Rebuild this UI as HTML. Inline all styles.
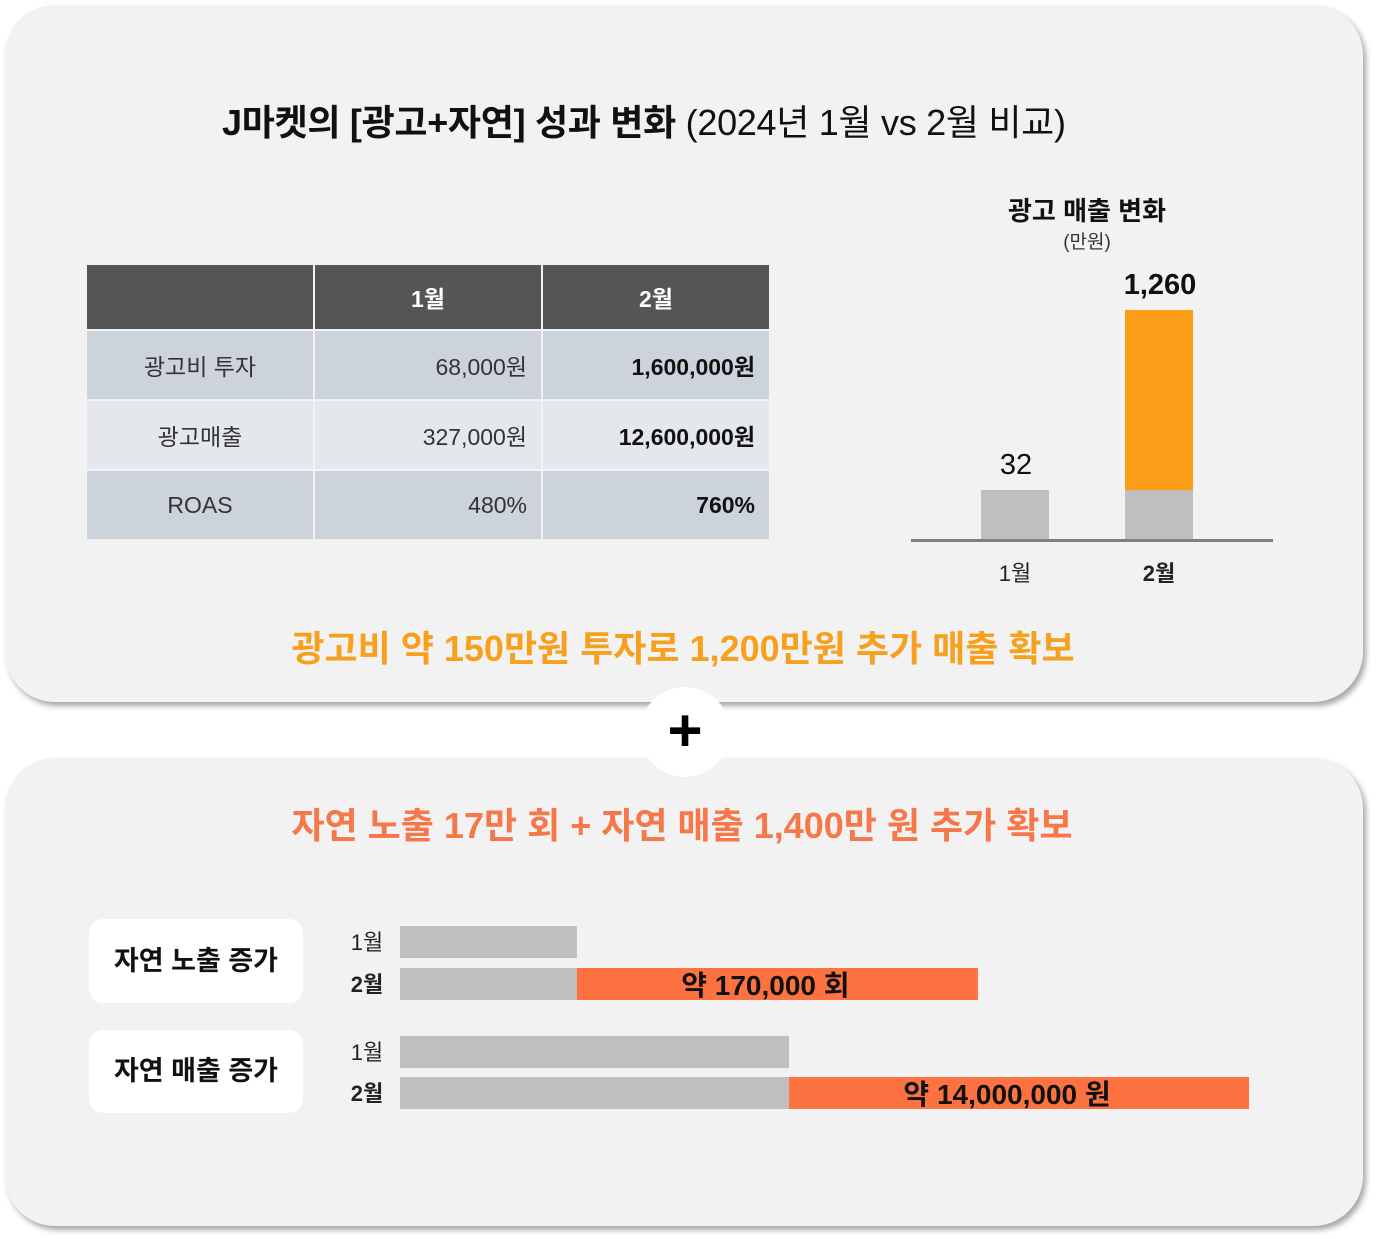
<!DOCTYPE html>
<html><head><meta charset="utf-8">
<style>
body{margin:0;width:1377px;height:1239px;background:#fff;font-family:"Liberation Sans","Noto Sans CJK KR",sans-serif;position:relative;overflow:hidden}
.panel{position:absolute;background:#f2f2f2;border-radius:50px;box-shadow:3px 4px 6px rgba(0,0,0,0.35)}
.abs{position:absolute}
table{border-collapse:separate;border-spacing:2px;position:absolute;left:85px;top:263px;width:686px;table-layout:fixed}
td{font-size:23px;color:#333;padding:0}
</style></head><body>
<div class="panel" style="left:5px;top:5px;width:1358px;height:697px"></div>
<div class="panel" style="left:5px;top:758px;width:1358px;height:468px"></div>
<div class="abs" style="left:640px;top:687px;width:90px;height:90px;border-radius:50%;background:#fff;text-align:center;line-height:88px;font-size:60px;font-weight:bold;color:#000">+</div>

<div class="abs" style="left:222px;top:94px;white-space:nowrap;font-size:36px;color:#111;letter-spacing:-0.3px"><b>J마켓의 [광고+자연] 성과 변화</b> (2024년 1월 vs 2월 비교)</div>

<table>
<tr style="height:64px;background:#555;color:#fff"><td style="background:#555"></td><td style="background:#555;color:#fff;text-align:center;font-weight:bold">1월</td><td style="background:#555;color:#fff;text-align:center;font-weight:bold">2월</td></tr>
<tr style="height:68px"><td style="background:#cdd3db;text-align:center">광고비 투자</td><td style="background:#cdd3db;text-align:right;padding-right:14px">68,000원</td><td style="background:#cdd3db;text-align:right;padding-right:14px;font-weight:bold;color:#111">1,600,000원</td></tr>
<tr style="height:68px"><td style="background:#e4e7eb;text-align:center">광고매출</td><td style="background:#e4e7eb;text-align:right;padding-right:14px">327,000원</td><td style="background:#e4e7eb;text-align:right;padding-right:14px;font-weight:bold;color:#111">12,600,000원</td></tr>
<tr style="height:68px"><td style="background:#cdd3db;text-align:center">ROAS</td><td style="background:#cdd3db;text-align:right;padding-right:14px">480%</td><td style="background:#cdd3db;text-align:right;padding-right:14px;font-weight:bold;color:#111">760%</td></tr>
</table>

<svg class="abs" style="left:0;top:0" width="1377" height="1239" id="chart"></svg>

<div class="abs" style="left:0;width:1366px;top:620px;text-align:center;font-size:36px;font-weight:bold;color:#f7a01e">광고비 약 150만원 투자로 1,200만원 추가 매출 확보</div>
<div class="abs" style="left:0;width:1364px;top:797px;text-align:center;font-size:36px;font-weight:bold;color:#f5774a">자연 노출 17만 회 + 자연 매출 1,400만 원 추가 확보</div>

<div class="abs" style="left:89px;top:919px;width:214px;height:84px;background:#fff;border-radius:14px;font-size:27px;font-weight:bold;line-height:84px;text-align:center;color:#111">자연 노출 증가</div>
<div class="abs" style="left:89px;top:1030px;width:214px;height:83px;background:#fff;border-radius:14px;font-size:27px;font-weight:bold;line-height:83px;text-align:center;color:#111">자연 매출 증가</div>

<script>
const barCats=['1월','2월'];
const barBase=[32,32];
const barTotal=[32,1260];
const barLabels=['32','1,260'];
const impCats=['1월','2월'];
const impBase=[75000,75000];
const impAdd=[0,170000];
const impLabel='약 170,000 회';
const revCats=['1월','2월'];
const revBase=[11840000,11840000];
const revAdd=[0,14000000];
const revLabel='약 14,000,000 원';

const svg=document.getElementById('chart');
const NS='http://www.w3.org/2000/svg';
function mk(t,a,txt){const e=document.createElementNS(NS,t);for(const k in a)e.setAttribute(k,a[k]);if(txt!==undefined)e.textContent=txt;svg.appendChild(e);return e;}
const F='Liberation Sans, Noto Sans CJK KR, sans-serif';
let e=mk('text',{x:1087,y:220,'text-anchor':'middle','font-size':26,'font-weight':'bold',fill:'#111','font-family':F},'광고 매출 변화');

e=mk('text',{x:1087,y:248,'text-anchor':'middle','font-size':19,fill:'#333','font-family':F},'(만원)');

const baseY=540;
function yS(v){return baseY-(50+(v-32)*180/1228);}
const xC=[1015,1159];
for(let i=0;i<barCats.length;i++){
  const yb=yS(barBase[i]),yt=yS(barTotal[i]);
  e=mk('rect',{x:xC[i]-34,y:yb,width:68,height:baseY-yb,fill:'#bfbfbf'});
  
  if(barTotal[i]>barBase[i]){e=mk('rect',{x:xC[i]-34,y:yt,width:68,height:yb-yt,fill:'#fb9d17'});
  }
  e=mk('text',{x:xC[i]+1,y:yt-16,'text-anchor':'middle','font-size':29,'font-weight':i?'bold':'normal',fill:'#111','font-family':F},barLabels[i]);
  
  e=mk('text',{x:xC[i],y:581,'text-anchor':'middle','font-size':22,'font-weight':i?'bold':'normal',fill:'#222','font-family':F},barCats[i]);
  
}
e=mk('line',{x1:911,y1:540.5,x2:1273,y2:540.5,stroke:'#7f7f7f','stroke-width':3});

function hbars(cats,base,add,label,scale,ys,name){
  const x0=400;
  for(let i=0;i<cats.length;i++){
    const y=ys[i];
    const gw=base[i]*scale;
    e=mk('rect',{x:x0,y:y,width:gw,height:32,fill:'#bfbfbf'});
    
    if(add[i]>0){const ow=add[i]*scale;
      e=mk('rect',{x:x0+gw,y:y,width:ow,height:32,fill:'#fd7241'});
      
      e=mk('text',{x:x0+gw+ow/2-12,y:y+27,'text-anchor':'middle','font-size':28,'font-weight':'bold',fill:'#111','font-family':F},label);
      }
    e=mk('text',{x:367,y:y+24,'text-anchor':'middle','font-size':22,'font-weight':i?'bold':'normal',fill:'#222','font-family':F},cats[i]);
    
  }
}
hbars(impCats,impBase,impAdd,impLabel,401/170000,[926,968],'impressions');
hbars(revCats,revBase,revAdd,revLabel,460/14000000,[1036,1077],'revenue');
</script>
</body></html>
